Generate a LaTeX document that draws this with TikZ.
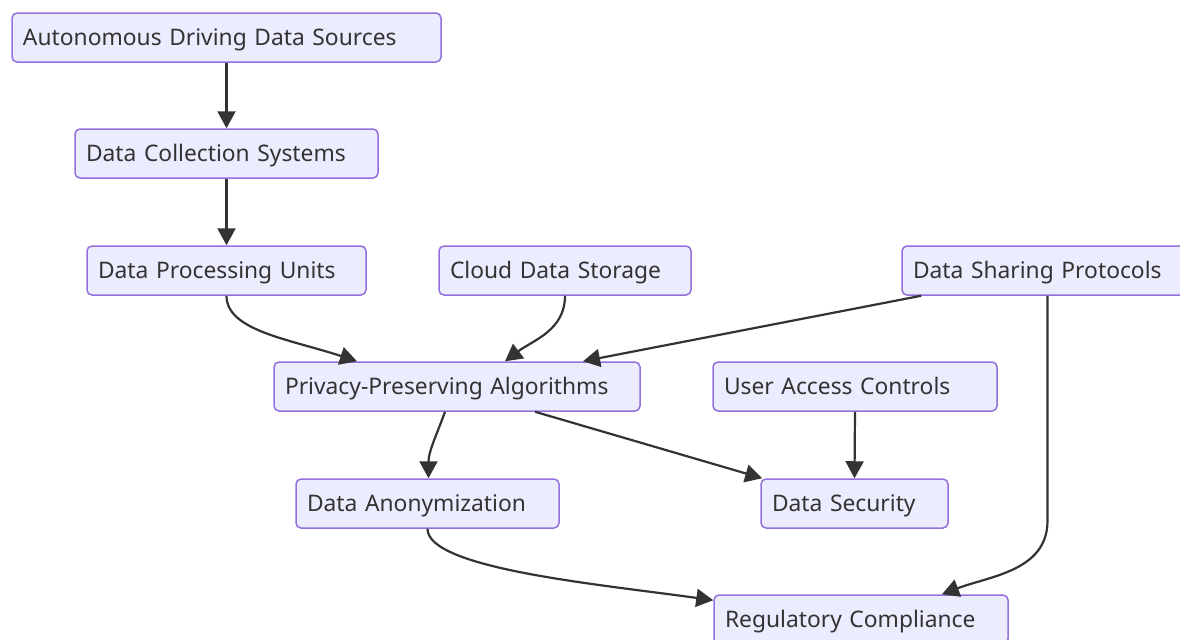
\documentclass[tikz,border=0pt]{standalone}
\usepackage{fontspec}
\setmainfont{Noto Sans}
\usepackage{tikz}
\usetikzlibrary{arrows.meta,calc,positioning}
\definecolor{boxfill}{HTML}{ECECFF}
\definecolor{boxline}{HTML}{9370DB}
\definecolor{ink}{HTML}{333333}
\tikzset{
  box/.style={
    shape = rectangle,
    draw = boxline,
    fill = boxfill,
    line width = 0.75pt,
    rounded corners = 2.5pt,
    text = ink,
    text width = #1,
    text height = 11pt,
    text depth = 2.6pt,
    align = left,
    inner xsep = 5.5pt,
    minimum height = 24.5pt,
    font = \fontsize{11.4pt}{13pt}\selectfont
  },
  flow/.style={
    draw = ink,
    line width = 1.1pt,
    -{Triangle[length=8.5pt,width=9pt]}
  },
}
\begin{document}
\begin{tikzpicture}[x=0.5pt,y=-0.5pt]
    \clip (0,0) rectangle (1180,639);

    \node[box=203.5pt] (src) at (226.5,37.5) {Autonomous Driving Data Sources};
    \node[box=140.5pt] (coll) at (226.5,153.5) {Data Collection Systems};
    \node[box=128.5pt] (proc) at (226.5,270.5) {Data Processing Units};
    \node[box=115pt] (cloud) at (565,270.5) {Cloud Data Storage};
    \node[box=134.5pt] (share) at (1047.5,270.5) {Data Sharing Protocols};
    \node[box=172pt] (ppa) at (457,386.5) {Privacy-Preserving Algorithms};
    \node[box=131pt] (uac) at (855,386.5) {User Access Controls};
    \node[box=120.5pt] (anon) at (427.5,503.5) {Data Anonymization};
    \node[box=82.5pt] (sec) at (854.5,503.5) {Data Security};
    \node[box=136pt] (reg) at (861,619.5) {Regulatory Compliance};

    % straight links
    \draw[flow] (src.south) -- (coll.north);
    \draw[flow] (coll.south) -- (proc.north);
    \draw[flow] (uac.south) -- (sec.north);
    \draw[flow] ($(share.south west)+(20,0)$) -- ($(ppa.north)+(126,0)$);
    \draw[flow] ($(ppa.south)+(78,0)$) -- ($(sec.north west)+(2,0)$);

    % curved links
    \draw[flow] (proc.south) .. controls ($(proc.south)+(0,35)$) and ($(ppa.north)+(-167,-22)$) .. ($(ppa.north)+(-100,0)$);
    \draw[flow] (cloud.south) to[out=-90,in=37] ($(ppa.north)+(48,0)$);
    \draw[flow] ($(ppa.south)+(-12,0)$) to[out=-110,in=90] ($(anon.north)+(1,0)$);
    \draw[flow] (anon.south) .. controls ($(anon.south)+(0,40)$) and ($(reg.north west)+(-114,-10)$) .. ($(reg.north west)+(0,6)$);
    \draw[flow] (share.south) -- ++(0,225) to[out=-90,in=21] ($(reg.north)+(81,0)$);
\end{tikzpicture}
\end{document}
